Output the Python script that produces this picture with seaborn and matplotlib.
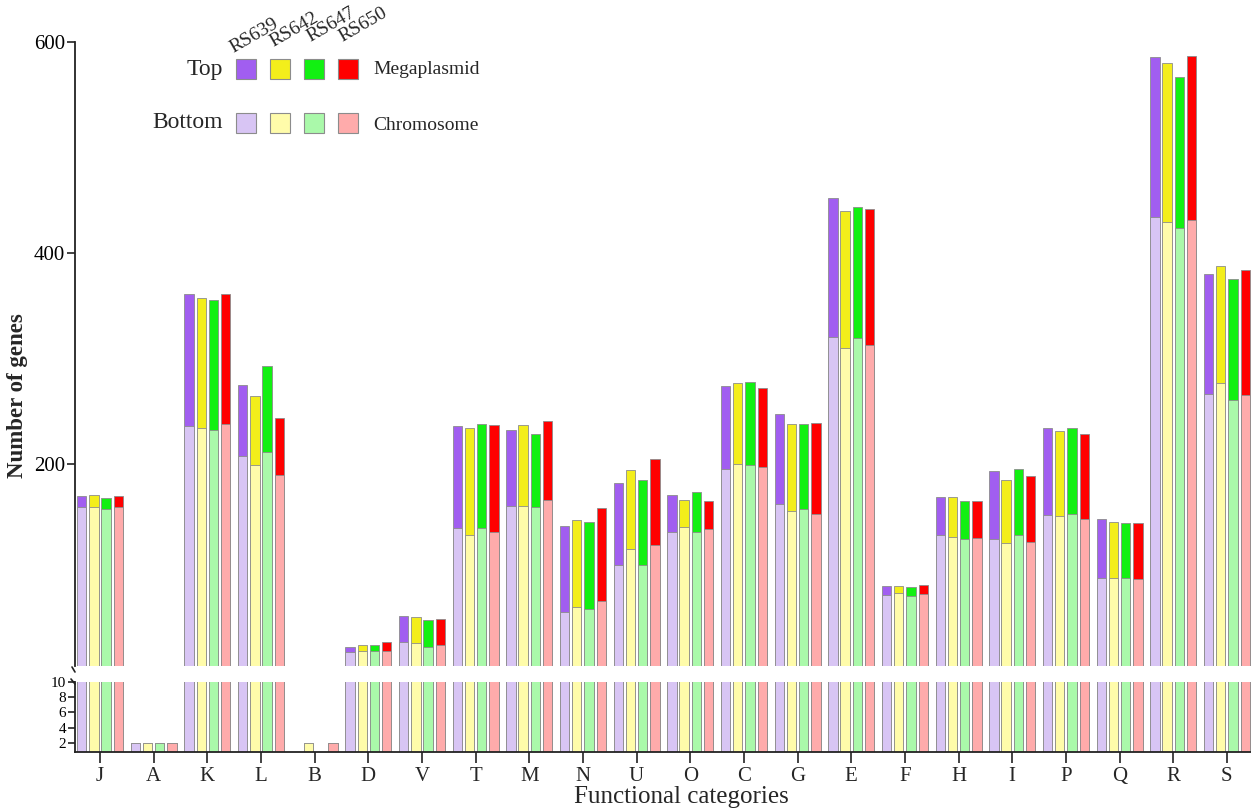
import numpy as np
import pandas as pd
import matplotlib
matplotlib.use("Agg")
import matplotlib.pyplot as plt
import seaborn as sns
from matplotlib.patches import Rectangle
from matplotlib.lines import Line2D

# ---------------- data ----------------
categories = ["J", "A", "K", "L", "B", "D", "V", "T", "M", "N", "U",
              "O", "C", "G", "E", "F", "H", "I", "P", "Q", "R", "S"]
strains = ["RS639", "RS642", "RS647", "RS650"]

# total genes (chromosome + megaplasmid)
total_rs639 = [170, 2, 361, 275, 0, 27, 56, 236, 232, 141, 182, 171, 274, 247, 452, 84, 169, 193, 234, 148, 586, 380]
total_rs642 = [171, 2, 357, 264, 2, 28, 55, 234, 237, 147, 194, 166, 277, 238, 440, 84, 169, 185, 231, 145, 580, 388]
total_rs647 = [168, 2, 355, 293, 0, 28, 52, 238, 228, 145, 185, 173, 278, 238, 444, 83, 165, 195, 234, 144, 567, 375]
total_rs650 = [170, 2, 361, 244, 2, 31, 53, 237, 241, 158, 205, 165, 272, 239, 442, 85, 165, 189, 228, 144, 587, 384]

# chromosome genes
chrom_rs639 = [159, 2, 236, 208, 0, 22, 31, 139, 160, 60, 104, 136, 195, 162, 320, 76, 133, 129, 152, 92, 434, 266]
chrom_rs642 = [159, 2, 234, 199, 2, 23, 30, 133, 160, 64, 119, 140, 200, 155, 310, 78, 131, 125, 151, 92, 429, 277]
chrom_rs647 = [157, 2, 232, 211, 0, 23, 27, 139, 159, 63, 104, 136, 199, 157, 319, 75, 129, 133, 153, 92, 424, 261]
chrom_rs650 = [159, 2, 238, 190, 2, 23, 28, 136, 166, 70, 123, 138, 197, 153, 313, 77, 130, 126, 148, 91, 431, 265]

upper_ticks = [200, 400, 600]
lower_ticks = [2, 4, 6, 8, 10]

dark_colors = ["#A15EF0", "#F3EE1B", "#12F012", "#FF0000"]
light_colors = ["#D8C5F4", "#FFFCAA", "#AAF9AA", "#FFABAB"]

totals = [total_rs639, total_rs642, total_rs647, total_rs650]
chroms = [chrom_rs639, chrom_rs642, chrom_rs647, chrom_rs650]
rows = []
for s, tot, chm in zip(strains, totals, chroms):
    for c, t, ch in zip(categories, tot, chm):
        rows.append(dict(category=c, strain=s, total=t, chromosome=ch))
df = pd.DataFrame(rows)

# ---------------- style ----------------
sns.set_theme(style="white")
plt.rcParams["font.family"] = ["Liberation Serif", "DejaVu Serif"]

W, H = 1251, 810
fig = plt.figure(figsize=(W / 100, H / 100), dpi=100)


def fx(px):
    return px / W


def fy(py):
    return 1 - py / H


x0, x1 = 75, 1251
ax_top = fig.add_axes([fx(x0), fy(665.5), fx(x1) - fx(x0), fy(42) - fy(665.5)])
ax_bot = fig.add_axes([fx(x0), fy(751.7), fx(x1) - fx(x0), fy(681.7) - fy(751.7)])

spine_col = "#222222"
bar_kw = dict(order=categories, hue_order=strains, width=0.912, gap=0.237,
              dodge=True, errorbar=None, saturation=1, legend=False,
              edgecolor="#8c8c8c", linewidth=0.6)

for ax in (ax_top, ax_bot):
    sns.barplot(data=df, x="category", y="total", hue="strain",
                palette=dark_colors, ax=ax, **bar_kw)
    sns.barplot(data=df, x="category", y="chromosome", hue="strain",
                palette=light_colors, ax=ax, **bar_kw)
    ax.set_xlim(-0.466, 21.45)
    ax.set_xlabel("")
    ax.set_ylabel("")
    for side in ("top", "right"):
        ax.spines[side].set_visible(False)
    ax.spines["left"].set_color(spine_col)
    ax.spines["left"].set_linewidth(1.3)
    ax.set_facecolor("none")
    ax.tick_params(axis="y", left=True, direction="out", length=6, width=1.2,
                   color=spine_col, labelsize=15, pad=1, labelcolor="black")

# upper axis
ax_top.set_ylim(9, 600)
ax_top.set_yticks(upper_ticks)
ax_top.set_yticklabels([str(t) for t in upper_ticks])
ax_top.spines["bottom"].set_visible(False)
ax_top.set_xticks([])

# lower axis
ax_bot.set_ylim(0.9, 10)
ax_bot.set_yticks(lower_ticks)
ax_bot.set_yticklabels([str(t) for t in lower_ticks])
ax_bot.tick_params(axis="y", labelsize=11, pad=1.5, length=5)
ax_bot.spines["bottom"].set_color(spine_col)
ax_bot.spines["bottom"].set_linewidth(1.3)
ax_bot.set_xticks(range(len(categories)))
ax_bot.set_xticklabels(categories)
ax_bot.tick_params(axis="x", bottom=True, direction="out", length=8, width=1.2,
                   color=spine_col, labelsize=15, pad=3)

# break marks
fig.add_artist(Line2D([fx(72), fx(75)], [fy(667), fy(672)], color=spine_col, lw=1.2))
fig.add_artist(Line2D([fx(71), fx(75)], [fy(679), fy(684)], color=spine_col, lw=1.2))

# axis labels
fig.text(fx(681), fy(797), "Functional categories", ha="center", va="center",
         fontsize=18)
fig.text(fx(18), fy(396), "Number of genes", ha="center", va="center",
         rotation=90, fontsize=16.5, fontweight="bold")

# legend
sq_x = [236, 270, 304, 338]
for xl, dc, lc in zip(sq_x, dark_colors, light_colors):
    fig.add_artist(Rectangle((fx(xl), fy(79)), fx(20), 20 / H, facecolor=dc,
                             edgecolor="#8c8c8c", lw=0.8, transform=fig.transFigure))
    fig.add_artist(Rectangle((fx(xl), fy(133)), fx(20), 20 / H, facecolor=lc,
                             edgecolor="#8c8c8c", lw=0.8, transform=fig.transFigure))
fig.text(fx(223), fy(70), "Top", ha="right", va="center", fontsize=17)
fig.text(fx(223), fy(122), "Bottom", ha="right", va="center", fontsize=17)
fig.text(fx(373), fy(69), "Megaplasmid", ha="left", va="center", fontsize=14)
fig.text(fx(373), fy(126), "Chromosome", ha="left", va="center", fontsize=14)

lab_pos = [(233, 53), (273, 47), (310, 42), (342, 42)]
for s, (lx, ly) in zip(strains, lab_pos):
    fig.text(fx(lx), fy(ly), s, ha="left", va="baseline", rotation=30,
             rotation_mode="anchor", fontsize=14)

fig.savefig("out.png", dpi=100)
